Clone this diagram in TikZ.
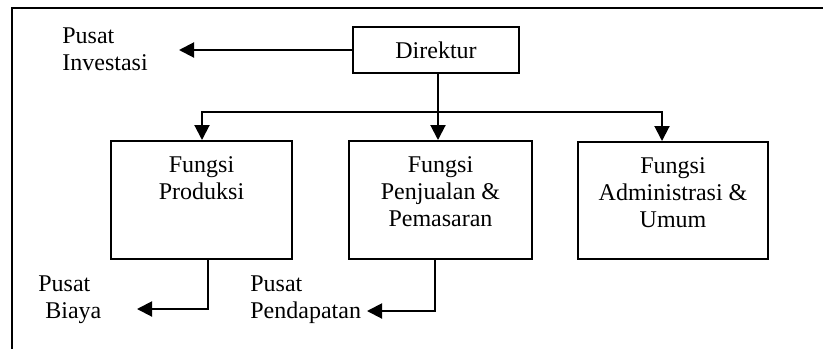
\documentclass[tikz,border=0pt]{standalone}
\usepackage{fontspec}
\setmainfont{Liberation Serif}
\usetikzlibrary{arrows.meta}
\begin{document}
\begin{tikzpicture}[x=0.5pt,y=-0.5pt,
  every node/.style={font=\fontsize{12}{13.5}\selectfont, inner sep=0pt},
  box/.style={draw, line width=1pt},
  txt/.style={align=center, anchor=north},
  lbl/.style={align=left, anchor=north west},
  wire/.style={line width=1pt},
  arr/.style={line width=1pt, -{Triangle[width=7.5pt,length=7.5pt]}}]
\useasboundingbox (0,0) rectangle (823,349);
% frame (open to the right and bottom)
\draw[wire] (823,8) -- (12,8) -- (12,349);

% boxes
\node[box, minimum width=83pt, minimum height=23pt] (dir) at (436,50) {Direktur};
\node[box, minimum width=90.5pt, minimum height=59pt] (f1) at (201.5,200) {};
\node[box, minimum width=91.5pt, minimum height=59pt] (f2) at (440.5,200) {};
\node[box, minimum width=95pt, minimum height=58.5pt] (f3) at (673,200.5) {};

% box texts
\node[txt] (t1) at ([yshift=-8pt]f1.north) {Fungsi\\Produksi};
\node[txt] (t2) at ([yshift=-8pt]f2.north) {Fungsi\\Penjualan \&\\Pemasaran};
\node[txt] (t3) at ([yshift=-8pt]f3.north) {Fungsi\\Administrasi \&\\Umum};

% outside labels
\node[lbl] (inv) at (62,27) {Pusat\\Investasi};
\node[lbl] (biaya) at (38,275) {Pusat\\\hspace*{3.5pt}Biaya};
\node[lbl] (pend) at (250,275) {Pusat\\Pendapatan};

% junction points and free arrow ends
\coordinate (jx) at (438,112);
\coordinate (jl) at (202,112);
\coordinate (jr) at (662,112);
\coordinate (invtip) at (179,50);
\coordinate (b1) at (208,309);
\coordinate (b1tip) at (137,309);
\coordinate (b2) at (435,311);
\coordinate (b2tip) at (367,311);

% connectors
\draw[arr] (dir.west) -- (invtip);
\draw[arr] (dir.south -| jx) -- (f2.north -| jx);
\draw[arr] (jx) -- (jl) -- (jl |- f1.north);
\draw[arr] (jx) -- (jr) -- (jr |- f3.north);
\draw[arr] (f1.south -| b1) -- (b1) -- (b1tip);
\draw[arr] (f2.south -| b2) -- (b2) -- (b2tip);
\end{tikzpicture}
\end{document}
